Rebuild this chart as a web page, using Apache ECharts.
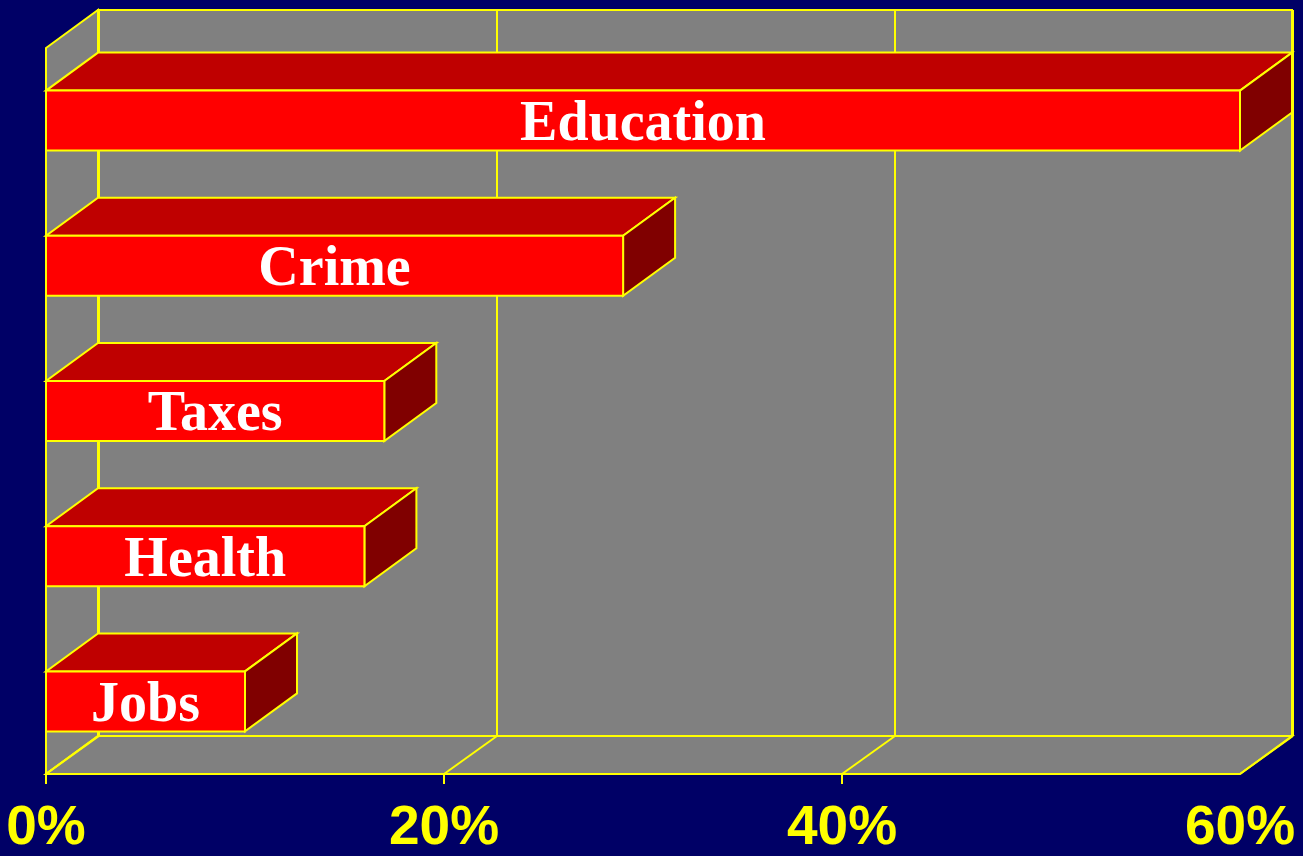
<!DOCTYPE html>
<html>
<head>
<meta charset="utf-8">
<script src="https://cdn.jsdelivr.net/npm/echarts@6/dist/echarts.min.js"></script>
<style>
  html, body { margin: 0; padding: 0; background: #000066; }
  #chart { width: 1303px; height: 856px; }
</style>
</head>
<body>
<div id="chart"></div>
<script>
// Issue categories, top to bottom
const categories = ['Education', 'Crime', 'Taxes', 'Health', 'Jobs'];
// Share of respondents (%)
const shares = [60, 29, 17, 16, 10];
// Axis ticks (%)
const xTicks = [0, 20, 40, 60];
// Ticks that carry a short mark below the front edge
const tickMarks = [0, 20, 40];

// Oblique projection used for the pseudo-3D look
const DX = 52, DY = -38;
const YELLOW = '#ffff00';
const LINE_W = 2;

const chart = echarts.init(document.getElementById('chart'));

function wallsRenderItem(params, api) {
  const cs = params.coordSys;
  const x0 = cs.x, x1 = cs.x + cs.width;
  const top = cs.y, bottom = cs.y + cs.height;
  const stroke = { fill: '#808080', stroke: YELLOW, lineWidth: LINE_W };
  const children = [];
  // back wall
  children.push({ type: 'polygon', shape: { points: [[x0 + DX, top + DY], [x1 + DX, top + DY], [x1 + DX, bottom + DY], [x0 + DX, bottom + DY]] }, style: stroke });
  // left wall
  children.push({ type: 'polygon', shape: { points: [[x0, top], [x0 + DX, top + DY], [x0 + DX, bottom + DY], [x0, bottom]] }, style: stroke });
  // floor
  children.push({ type: 'polygon', shape: { points: [[x0, bottom], [x1, bottom], [x1 + DX, bottom + DY], [x0 + DX, bottom + DY]] }, style: stroke });
  // grid lines on back wall and floor
  xTicks.forEach(function (t) {
    const px = api.coord([t, 0])[0];
    children.push({ type: 'line', shape: { x1: px + DX + 1, y1: top + DY, x2: px + DX + 1, y2: bottom + DY }, style: { stroke: YELLOW, lineWidth: LINE_W } });
    children.push({ type: 'line', shape: { x1: px, y1: bottom, x2: px + DX + 1, y2: bottom + DY }, style: { stroke: YELLOW, lineWidth: LINE_W } });
  });
  // front axis edge and tick marks
  children.push({ type: 'line', shape: { x1: x0, y1: bottom, x2: x1, y2: bottom }, style: { stroke: YELLOW, lineWidth: LINE_W } });
  tickMarks.forEach(function (t) {
    const px = api.coord([t, 0])[0];
    children.push({ type: 'line', shape: { x1: px, y1: bottom, x2: px, y2: bottom + 10 }, style: { stroke: YELLOW, lineWidth: LINE_W } });
  });
  return { type: 'group', children: children };
}

function barRenderItem(params, api) {
  const idx = api.value(1);
  const val = api.value(0);
  const start = api.coord([0, idx]);
  const end = api.coord([val, idx]);
  const h = api.size([0, 1])[1] * 0.413;
  const xa = start[0], xb = end[0];
  const yt = start[1] - h / 2, yb = start[1] + h / 2;
  const edge = { stroke: YELLOW, lineWidth: LINE_W, lineJoin: 'miter' };
  return {
    type: 'group',
    children: [
      { type: 'polygon', shape: { points: [[xa, yt], [xb, yt], [xb + DX, yt + DY], [xa + DX, yt + DY]] }, style: Object.assign({ fill: '#bf0000' }, edge) },
      { type: 'polygon', shape: { points: [[xb, yt], [xb + DX, yt + DY], [xb + DX, yb + DY], [xb, yb]] }, style: Object.assign({ fill: '#800000' }, edge) },
      { type: 'rect', shape: { x: xa, y: yt, width: xb - xa, height: yb - yt }, style: Object.assign({ fill: '#ff0000' }, edge) },
      { type: 'text', x: (xa + xb) / 2, y: start[1] + 5, style: { text: categories[idx], fill: '#ffffff', font: 'bold 56px "Liberation Serif", "Times New Roman", serif', align: 'center', verticalAlign: 'middle' } }
    ]
  };
}

chart.setOption({
  backgroundColor: '#000066',
  animation: false,
  grid: { left: 46, right: 63, top: 48, bottom: 81 },
  xAxis: {
    type: 'value', min: 0, max: 60, interval: 20,
    axisLine: { show: false },
    axisTick: { show: false },
    splitLine: { show: false },
    axisLabel: {
      color: YELLOW, fontWeight: 'bold', fontSize: 55,
      fontFamily: '"Liberation Sans", Arial, sans-serif',
      margin: 27,
      formatter: '{value}%'
    }
  },
  yAxis: {
    type: 'category', data: categories, inverse: true,
    axisLine: { show: false }, axisTick: { show: false }, axisLabel: { show: false }, splitLine: { show: false }
  },
  series: [
    { type: 'custom', renderItem: wallsRenderItem, data: [[0, 0]], z: 1, silent: true, clip: false },
    { type: 'custom', renderItem: barRenderItem, data: shares.map(function (v, i) { return [v, i]; }), z: 2, silent: true, clip: false }
  ]
});
</script>
</body>
</html>
